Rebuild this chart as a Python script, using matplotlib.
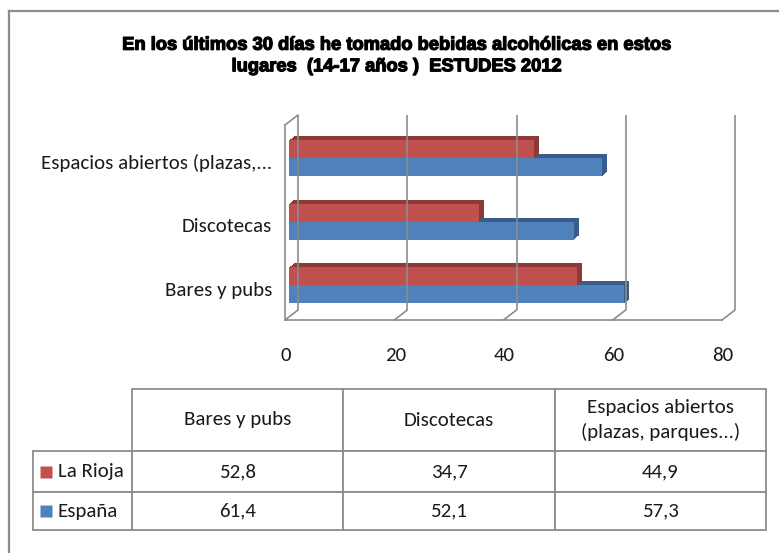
import matplotlib
matplotlib.use("Agg")
import matplotlib.pyplot as plt
from matplotlib.transforms import ScaledTranslation
from matplotlib.patches import ConnectionPatch
from matplotlib.lines import Line2D
from matplotlib.table import Table
import matplotlib.patheffects as pe
import numpy as np

# data
categories = ["Bares y pubs", "Discotecas", "Espacios abiertos (plazas,..."]
table_headers = ["Bares y pubs", "Discotecas", "Espacios abiertos\n(plazas, parques...)"]
series_names = ["La Rioja", "España"]
la_rioja = [52.8, 34.7, 44.9]
espana = [61.4, 52.1, 57.3]
xticks = [0, 20, 40, 60, 80]
title = "En los últimos 30 días he tomado bebidas alcohólicas en estos\nlugares  (14-17 años )  ESTUDES 2012"

RED, RED_DARK = "#C0504D", "#8C3A38"
BLUE, BLUE_DARK = "#4F81BD", "#385D8A"
GRID = "#8C8C8C"
TXT = "#1a1a1a"
plt.rcParams["font.family"] = ["Carlito", "Liberation Sans Narrow", "DejaVu Sans"]

W, H = 779, 553
fig = plt.figure(figsize=(W / 100, H / 100), dpi=100)

def px(dx, dy):
    # shift in pixels (dy up is positive)
    return ScaledTranslation(dx / 100, dy / 100, fig.dpi_scale_trans)

# outer frame (left and top edges are the only ones visible)
fig.add_artist(Line2D([8.5 / W, 8.5 / W], [0, 1 - 11 / H], color=GRID, lw=1.6))
fig.add_artist(Line2D([8.5 / W, 1], [1 - 11 / H, 1 - 11 / H], color=GRID, lw=1.6))

fig.text(397 / W, 1 - 56 / H, title, ha="center", va="center", fontsize=13.2,
         fontweight="bold", family=["Liberation Sans", "DejaVu Sans"], linespacing=1.35,
         path_effects=[pe.withStroke(linewidth=0.9, foreground="black")])

# chart: axes = back wall plane
ax = fig.add_axes([298 / W, 1 - 310 / H, 437 / W, 195 / H])
top = 2.57
ax.axis("off")

front = ax.transData + px(-13, -10)

def link(x0, y0, x1, y1, t0, t1):
    ax.add_artist(ConnectionPatch((x0, y0), (x1, y1), coordsA=t0, coordsB=t1,
                                  color=GRID, lw=1.2, clip_on=False))

ax.vlines(xticks, -0.5, top, color=GRID, lw=1.2, clip_on=False)
ax.plot([0, 80], [-0.5, -0.5], color=GRID, lw=1.2, transform=front, clip_on=False)
ax.plot([0, 0], [-0.5, top], color=GRID, lw=1.2, transform=front, clip_on=False)
for x in xticks:
    link(x, -0.5, x, -0.5, ax.transData, front)
link(0, top, 0, top, ax.transData, front)

y = np.arange(len(categories))
h = 0.283
for vals, dy, col, dark in [(espana, -h / 2, BLUE, BLUE_DARK), (la_rioja, h / 2, RED, RED_DARK)]:
    for f in np.linspace(0, 1, 9):
        ax.barh(y + dy, vals, height=h, color=dark, lw=0, clip_on=False,
                transform=ax.transData + px(-4 - 5 * f, -3.2 - 3.8 * f))
    ax.barh(y + dy, vals, height=h, color=col, lw=0, clip_on=False,
            transform=ax.transData + px(-9, -7))
ax.set_xlim(0, 80)
ax.set_ylim(-0.5, top)

for i, cat in enumerate(categories):
    ax.text(0, i, cat, transform=ax.transData + px(-26, -12), ha="right", va="center",
            fontsize=15, color=TXT)
for x in xticks:
    ax.text(x, -0.5, str(x), transform=ax.transData + px(-12, -45), ha="center",
            va="center", fontsize=15, color=TXT)

# data table
tax = fig.add_axes([33 / W, 1 - 530 / H, 733 / W, 141 / H])
tax.axis("off")
col_w = np.array([99, 211, 212, 211]) / 733
row_h = np.array([62, 41, 38]) / 141
tab = Table(tax, bbox=[0, 0, 1, 1])
for j, head in enumerate(table_headers):
    tab.add_cell(0, j + 1, col_w[j + 1], row_h[0], text=head, loc="center",
                 edgecolor=GRID)
for r, (name, vals) in enumerate(zip(series_names, [la_rioja, espana])):
    c = tab.add_cell(r + 1, 0, col_w[0], row_h[r + 1], text=name, loc="left", edgecolor=GRID)
    c.PAD = 0.25
    for j, v in enumerate(vals):
        tab.add_cell(r + 1, j + 1, col_w[j + 1], row_h[r + 1],
                     text=f"{v:.1f}".replace(".", ","), loc="center", edgecolor=GRID)
tab.auto_set_font_size(False)
tab.set_fontsize(15)
for cell in tab.get_celld().values():
    cell.set_linewidth(1.3)
    cell.get_text().set_color(TXT)
    cell.get_text().set_linespacing(1.5)
tax.add_table(tab)

ycent = [1 - row_h[0] - row_h[1] / 2, row_h[2] / 2]
for yy, col in zip(ycent, [RED, BLUE]):
    tax.plot(13 / 733, yy, marker="s", ms=9, color=col, mec="none")
tax.set_xlim(0, 1)
tax.set_ylim(0, 1)

fig.savefig("out.png", dpi=100)
